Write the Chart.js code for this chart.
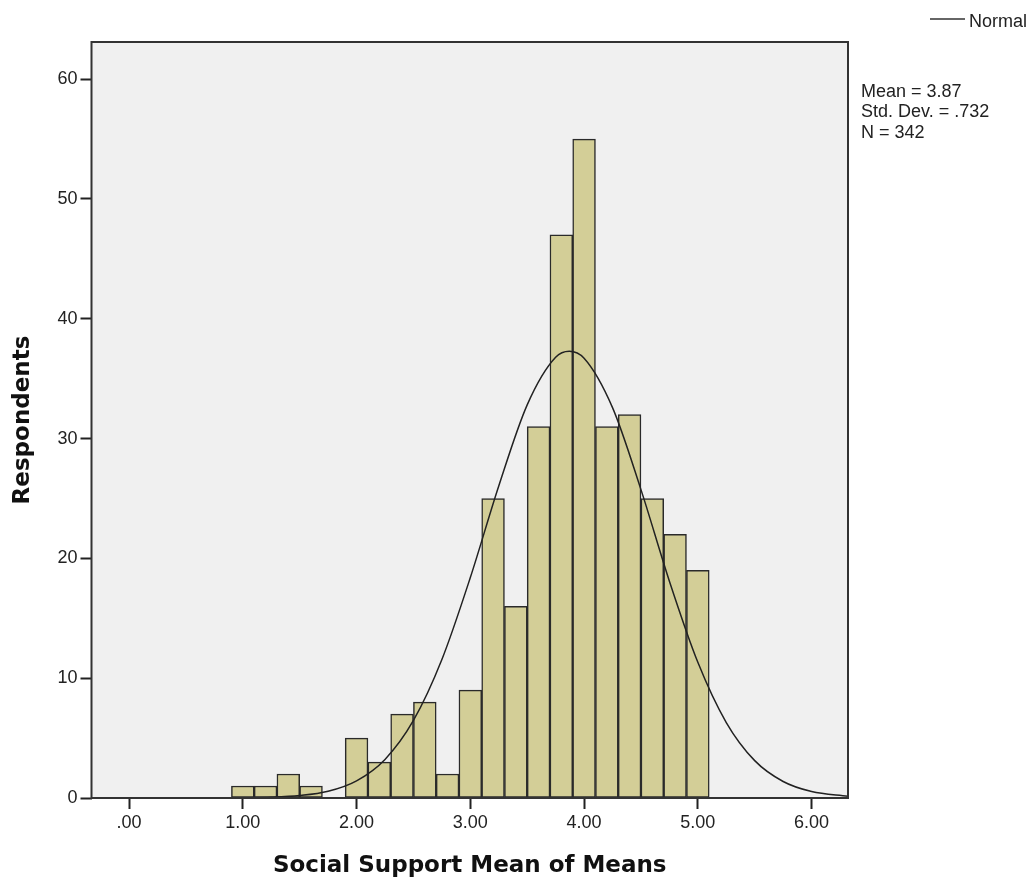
<!DOCTYPE html>
<html>
<head>
<meta charset="utf-8">
<title>Social Support Mean of Means</title>
<script src="https://cdn.jsdelivr.net/npm/chart.js@4"></script>
<style>
  html, body { margin: 0; padding: 0; background: #fff; }
  #chart { display: block; }
</style>
</head>
<body>
<canvas id="chart" width="1031" height="880"></canvas>
<script>
// histogram bins (bin centres, width 0.2)
const binCentres = [1.0, 1.2, 1.4, 1.6, 1.8, 2.0, 2.2, 2.4, 2.6, 2.8, 3.0,
                    3.2, 3.4, 3.6, 3.8, 4.0, 4.2, 4.4, 4.6, 4.8, 5.0];
const binCounts  = [1, 1, 2, 1, 0, 5, 3, 7, 8, 2, 9,
                    25, 16, 31, 47, 55, 31, 32, 25, 22, 19];

// normal curve
const curveX = [0.33, 0.75, 1.0, 1.25, 1.5, 1.75, 2.0, 2.25, 2.5, 2.75, 3.0, 3.25, 3.5,
                3.75, 3.87, 4.0, 4.25, 4.5, 4.75, 5.0, 5.25, 5.5, 5.75, 6.0, 6.32];
const curveY = [0.0, 0.0, 0.02, 0.06, 0.2, 0.56, 1.43, 3.22, 6.47, 11.56, 18.4, 26.04, 32.81,
                36.78, 37.28, 36.7, 32.58, 25.74, 18.1, 11.33, 6.3, 3.12, 1.38, 0.54, 0.14];

const xTicks = [0, 1, 2, 3, 4, 5, 6];
const xTickLabels = ['.00', '1.00', '2.00', '3.00', '4.00', '5.00', '6.00'];
const yTicks = [0, 10, 20, 30, 40, 50, 60];

const statsLines = ['Mean = 3.87', 'Std. Dev. = .732', 'N = 342'];
const legendLabel = 'Normal';

const tickFont = { family: '"Liberation Sans", Arial, sans-serif', size: 18 };
const titleFont = { family: '"DejaVu Sans", Verdana, sans-serif', size: 23, weight: 'bold', lineHeight: 1.2 };

const plotFrame = {
  id: 'plotFrame',
  beforeDraw(chart) {
    const { ctx, chartArea: a } = chart;
    ctx.save();
    ctx.fillStyle = '#f0f0f0';
    ctx.fillRect(a.left, a.top, a.right - a.left, a.bottom - a.top);
    ctx.restore();
  },
  afterDraw(chart) {
    const { ctx, chartArea: a } = chart;
    ctx.save();
    ctx.strokeStyle = '#333';
    ctx.lineWidth = 2;
    ctx.strokeRect(a.left, a.top, a.right - a.left, a.bottom - a.top);

    // legend
    ctx.strokeStyle = '#333';
    ctx.lineWidth = 1.5;
    ctx.beginPath();
    ctx.moveTo(930, 19);
    ctx.lineTo(965, 19);
    ctx.stroke();
    ctx.fillStyle = '#222';
    ctx.font = '18px "Liberation Sans", Arial, sans-serif';
    ctx.textBaseline = 'alphabetic';
    ctx.fillText(legendLabel, 969, 27);

    // stats
    statsLines.forEach((s, i) => ctx.fillText(s, 861, 97 + i * 20.3));
    ctx.restore();
  }
};

new Chart(document.getElementById('chart'), {
  type: 'bar',
  data: {
    datasets: [
      {
        type: 'line',
        data: curveX.map((x, i) => ({ x: x, y: curveY[i] })),
        borderColor: '#222',
        borderWidth: 1.5,
        pointRadius: 0,
        cubicInterpolationMode: 'monotone',
        fill: false,
        order: 0
      },
      {
        type: 'bar',
        data: binCentres.map((x, i) => ({ x: x, y: binCounts[i] })),
        backgroundColor: '#d3ce97',
        borderColor: '#2a2a2a',
        borderWidth: 1.5,
        borderSkipped: false,
        barPercentage: 1,
        categoryPercentage: 1,
        order: 1
      }
    ]
  },
  options: {
    responsive: false,
    animation: false,
    devicePixelRatio: 1,
    layout: { padding: { top: 42, right: 183, left: 0, bottom: 0 } },
    plugins: { legend: { display: false }, tooltip: { enabled: false } },
    scales: {
      x: {
        type: 'linear',
        min: -0.33,
        max: 6.32,
        offset: false,
        afterFit(s) { s.height = 82; },
        afterBuildTicks(s) { s.ticks = xTicks.map(v => ({ value: v })); },
        grid: { display: true, offset: false, drawOnChartArea: false, drawTicks: true, tickLength: 11, tickColor: '#222', tickWidth: 2 },
        border: { display: false },
        ticks: {
          padding: 3,
          color: '#222',
          font: tickFont,
          maxRotation: 0,
          callback: (v) => xTickLabels[xTicks.indexOf(v)]
        },
        title: { display: true, text: 'Social Support Mean of Means', color: '#111', font: titleFont, padding: { top: 0, bottom: 0 } }
      },
      y: {
        min: 0,
        max: 63.1,
        afterFit(s) { s.width = 91.5; },
        afterBuildTicks(s) { s.ticks = yTicks.map(v => ({ value: v })); },
        grid: { display: true, offset: false, drawOnChartArea: false, drawTicks: true, tickLength: 11, tickColor: '#222', tickWidth: 2 },
        border: { display: false },
        ticks: { padding: 3, color: '#222', font: tickFont },
        title: { display: true, text: 'Respondents', color: '#111', font: titleFont, padding: { top: 9, bottom: 0 } }
      }
    }
  },
  plugins: [plotFrame]
});
</script>
</body>
</html>
